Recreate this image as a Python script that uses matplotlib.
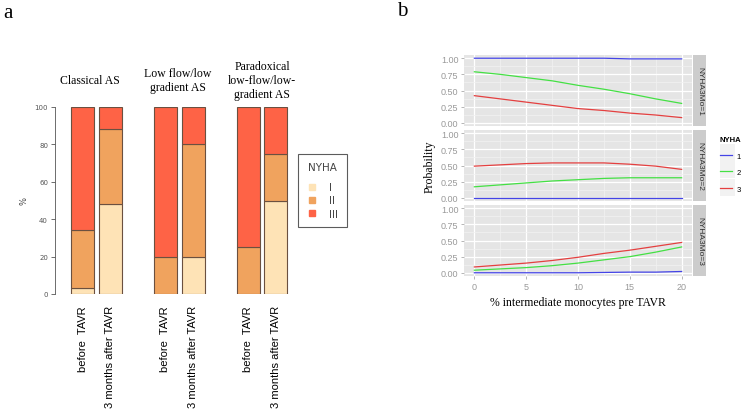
import matplotlib.pyplot as plt
from matplotlib.lines import Line2D
from matplotlib.patches import Rectangle

W, H = 746, 414

# panel a data (% of patients per NYHA class)
groups = ['Classical AS', 'Low flow/low\ngradient AS', 'Paradoxical\nlow-flow/low-\ngradient AS']
times = ['before  TAVR', '3 months after TAVR']
nyha_labels = ['I', 'II', 'III']
nyha_I = [3, 48, 0, 20, 0, 50]
nyha_II = [31, 40, 20, 60, 25, 25]
nyha_III = [66, 12, 80, 20, 75, 25]

# panel b data (predicted probability by % intermediate monocytes)
mono = [0, 2.5, 5, 7.5, 10, 12.5, 15, 17.5, 20]
facets = ['NYHA3Mo=1', 'NYHA3Mo=2', 'NYHA3Mo=3']
prob1 = [[1, 1, 1, 1, 1, 1, 0.99, 0.99, 0.99],
         [0, 0, 0, 0, 0, 0, 0, 0, 0],
         [0, 0, 0, 0, 0, 0.005, 0.01, 0.01, 0.02]]
prob2 = [[0.79, 0.75, 0.70, 0.65, 0.58, 0.52, 0.45, 0.37, 0.30],
         [0.17, 0.20, 0.23, 0.26, 0.28, 0.30, 0.31, 0.31, 0.31],
         [0.04, 0.06, 0.08, 0.11, 0.15, 0.20, 0.25, 0.32, 0.40]]
prob3 = [[0.42, 0.37, 0.32, 0.27, 0.22, 0.19, 0.15, 0.12, 0.08],
         [0.49, 0.51, 0.53, 0.54, 0.54, 0.54, 0.52, 0.49, 0.44],
         [0.09, 0.12, 0.15, 0.19, 0.24, 0.30, 0.35, 0.41, 0.47]]
series = ['1', '2', '3']


def box(x0, y0, x1, y1):
    # pixel box (top-left origin) -> figure rect
    return [x0 / W, 1 - y1 / H, (x1 - x0) / W, (y1 - y0) / H]


fig = plt.figure(figsize=(W / 100, H / 100), dpi=100)
serif = 'Liberation Serif'
sans = 'Liberation Sans'

# ---------- panel a ----------
ax = fig.add_axes(box(55, 108, 300, 295))
pos = []
for g in range(3):
    pos += [g * 3.6 + 1.2, g * 3.6 + 2.4]
cols = ['#FEE3B6', '#F0A35E', '#FE6346']
bottom = [0] * 6
for vals, c, lab in zip([nyha_I, nyha_II, nyha_III], cols, nyha_labels):
    ax.bar(pos, vals, width=1, bottom=bottom, color=c, edgecolor='#6b5040', linewidth=0.8)
    bottom = [b + v for b, v in zip(bottom, vals)]
ax.set_xlim(0, 245 / 23)
ax.set_ylim(0, 100)
for s in ['top', 'right', 'bottom']:
    ax.spines[s].set_visible(False)
ax.spines['left'].set_color('#555555')
ax.spines['left'].set_linewidth(0.6)
ax.set_yticks([0, 20, 40, 60, 80, 100])
ax.tick_params(axis='y', labelsize=5, colors='#555555', length=3, width=0.6, pad=2)
ax.set_xticks(pos)
ax.set_xticklabels(times * 3, rotation=90, fontsize=8, family=sans)
ax.tick_params(axis='x', length=0, pad=8)
ax.set_ylabel('%', fontsize=6, color='#444444', labelpad=4)
title_x = [1.5, 4.8 + 0.55, 8.4 + 0.6]
for tx, name in zip(title_x, groups):
    ax.text(tx, 114.4, name, ha='center', va='center', fontsize=8.5,
            family=serif, linespacing=1.2)
handles = [Line2D([], [], marker='s', linestyle='', color=c, markersize=4) for c in cols]
leg = ax.legend(handles, nyha_labels, title='NYHA', loc='upper left',
                bbox_to_anchor=(0.992, 0.749), borderaxespad=0, frameon=True, fancybox=False,
                edgecolor='#333333', fontsize=7.5, title_fontsize=7.5,
                handlelength=1.0, handletextpad=1.2, labelspacing=0.3, borderpad=0.8)
leg._legend_box.sep = 7.2
leg.get_frame().set_linewidth(0.8)
leg.get_title().set_color('#444444')
for t in leg.get_texts():
    t.set_color('#444444')

# ---------- panel b ----------
tops = [56, 131, 206]
axes_b = []
for i, top in enumerate(tops):
    a = fig.add_axes(box(464, top, 692, top + 71))
    a.set_facecolor('#E5E5E5')
    for y, c in zip([prob1[i], prob2[i], prob3[i]], ['#4444e6', '#44e044', '#e44040']):
        a.plot(mono, y, color=c, linewidth=0.9)
    a.set_xlim(-1, 21)
    a.set_ylim(-0.05, 1.05)
    a.set_yticks([0, 0.25, 0.5, 0.75, 1.0])
    a.set_yticklabels(['0.00', '0.25', '0.50', '0.75', '1.00'], family=sans)
    a.set_yticks([0.125, 0.375, 0.625, 0.875], minor=True)
    a.set_xticks([0, 5, 10, 15, 20])
    a.set_xticklabels(['0', '5', '10', '15', '20'], family=sans)
    a.set_xticks([2.5, 7.5, 12.5, 17.5], minor=True)
    a.grid(which='major', color='white', linewidth=0.9)
    a.grid(which='minor', color='#F2F2F2', linewidth=0.5)
    a.set_axisbelow(True)
    for s in a.spines.values():
        s.set_visible(False)
    a.tick_params(which='major', labelsize=6.5, colors='#999999', length=2, width=0.5, pad=2)
    a.tick_params(which='minor', length=0)
    if i < 2:
        a.tick_params(axis='x', labelbottom=False, length=0)
    sa = fig.add_axes(box(693, top, 706, top + 71))
    sa.set_facecolor('#CCCCCC')
    sa.set_xticks([])
    sa.set_yticks([])
    for s in sa.spines.values():
        s.set_visible(False)
    sa.text(0.5, 0.5, facets[i], rotation=-90, ha='center', va='center',
            fontsize=6, color='#333333', family=sans, transform=sa.transAxes)
    axes_b.append(a)

axes_b[-1].set_xlabel('% intermediate monocytes pre TAVR', fontsize=8.5, family=serif, labelpad=4)
fig.text(430 / W, 1 - 167 / H, 'Probability', rotation=90, ha='center', va='center',
         fontsize=8.5, family=serif)

for k in range(3):
    fig.patches.append(Rectangle((720 / W, 1 - (145 + 17.3 * k + 17) / H), 15 / W, 17 / H,
                                 transform=fig.transFigure, facecolor='#F2F2F2',
                                 edgecolor='none', zorder=0))
lh = [Line2D([], [], color=c, linewidth=0.9) for c in ['#4444e6', '#44e044', '#e44040']]
legb = fig.legend(lh, series, title='NYHA', loc='upper left', bbox_to_anchor=(718 / W, 1 - 135.5 / H),
                  frameon=False, fontsize=5.5, title_fontsize=5.5, handlelength=1.6,
                  handletextpad=0.6, labelspacing=1.2, borderpad=0.2, borderaxespad=0,
                  prop={'family': sans, 'size': 5.5})
legb.get_title().set_fontweight('bold')
legb.get_title().set_family(sans)
legb._legend_box.align = 'left'

fig.text(3 / W, 1 - 13 / H, 'a', fontsize=15, family=serif, va='center')
fig.text(397 / W, 1 - 11 / H, 'b', fontsize=15, family=serif, va='center')

fig.savefig('out.png', dpi=100)
